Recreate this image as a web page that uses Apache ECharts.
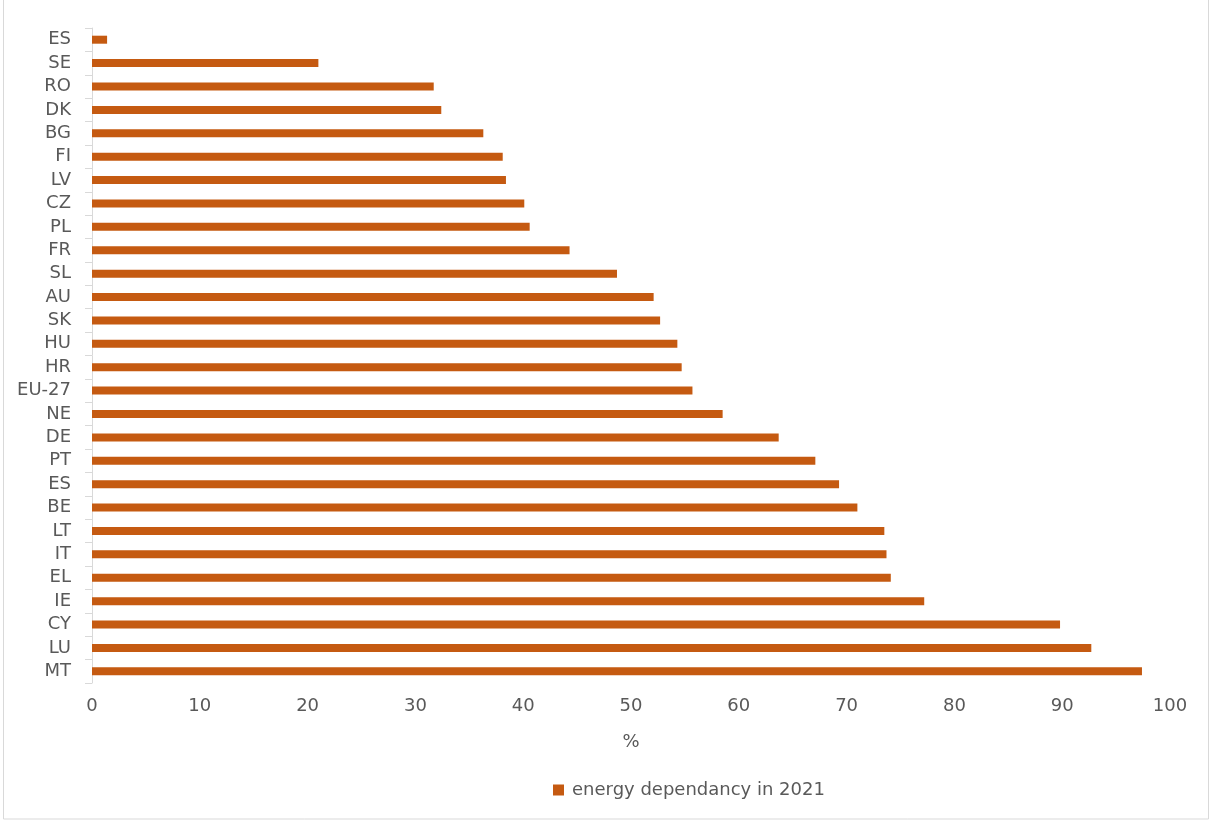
<!DOCTYPE html>
<html><head><meta charset="utf-8">
<script src="https://cdn.jsdelivr.net/npm/echarts@6/dist/echarts.min.js"></script>
<style>html,body{margin:0;padding:0;background:#fff}#c{width:1212px;height:823px}</style>
</head><body><div id="c"></div>
<script>
const categories = ['ES','SE','RO','DK','BG','FI','LV','CZ','PL','FR','SL','AU','SK','HU','HR','EU-27','NE','DE','PT','ES','BE','LT','IT','EL','IE','CY','LU','MT'];
const values = [1.4,21.0,31.7,32.4,36.3,38.1,38.4,40.1,40.6,44.3,48.7,52.1,52.7,54.3,54.7,55.7,58.5,63.7,67.1,69.3,71.0,73.5,73.7,74.1,77.2,89.8,92.7,97.4];
const xTicks = [0,10,20,30,40,50,60,70,80,90,100];
const seriesName = 'energy dependancy in 2021';
const axisName = '%';

const font = '"DejaVu Sans", "Open Sans", sans-serif';
const fs = 18;
const chart = echarts.init(document.getElementById('c'), null, {renderer:'canvas'});
chart.setOption({
  animation:false,
  backgroundColor:'#fff',
  textStyle:{fontFamily:font},
  graphic:[{type:'rect', shape:{x:3.5,y:-2,width:1205,height:821}, style:{fill:'none',stroke:'#d9d9d9',lineWidth:1}, silent:true}],
  grid:{left:92,right:42,top:28,bottom:140,containLabel:false},
  legend:{top:781,left:553,padding:0,icon:'rect',itemWidth:11,itemHeight:11,itemGap:8,
    textStyle:{color:'#595959',fontSize:fs,fontFamily:font,padding:[0,0,0,3]},data:[seriesName]},
  xAxis:{type:'value',min:xTicks[0],max:xTicks[xTicks.length-1],interval:10,
    name:axisName,nameLocation:'middle',nameGap:50,
    nameTextStyle:{color:'#595959',fontSize:fs,fontFamily:font},
    axisLine:{show:false},axisTick:{show:false},splitLine:{show:false},
    axisLabel:{color:'#595959',fontSize:fs,margin:14,fontFamily:font}},
  yAxis:{type:'category',inverse:true,data:categories,
    axisLine:{show:true,lineStyle:{color:'#d9d9d9',width:1}},
    axisTick:{show:true,length:7,interval:0,lineStyle:{color:'#d9d9d9'}},
    axisLabel:{color:'#595959',fontSize:fs,margin:21,interval:0,fontFamily:font},
    splitLine:{show:false}},
  series:[{name:seriesName,type:'bar',data:values,barWidth:8,
    itemStyle:{color:'#C55A11'}}]
});
</script></body></html>
